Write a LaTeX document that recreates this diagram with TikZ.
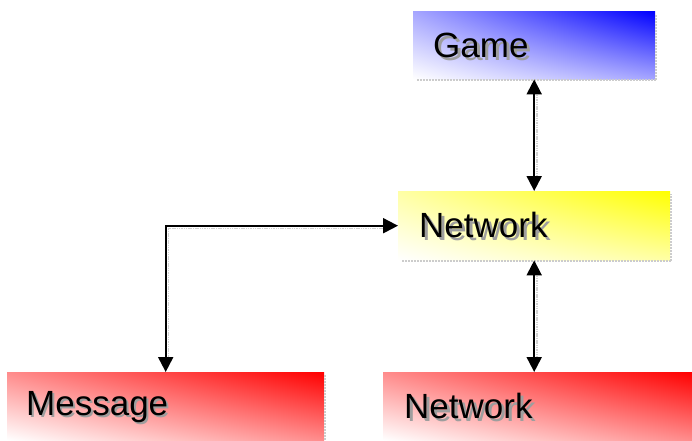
\documentclass[tikz,border=0pt]{standalone}
\usepackage{fontspec}
\setmainfont{Liberation Sans}
\usetikzlibrary{arrows.meta,shadings}

\tikzset{
  panel/.style={draw=none, minimum height=68pt, inner sep=0pt, anchor=north west},
  bluepanel/.style={panel, lower left=white, upper right=blue,
    upper left=blue!35!white, lower right=blue!35!white},
  yellowpanel/.style={panel, lower left=white, upper right=yellow,
    upper left=yellow!35!white, lower right=yellow!35!white},
  redpanel/.style={panel, lower left=white, upper right=red,
    upper left=red!45!white, lower right=red!45!white},
  edgeshadow/.style={line width=2pt, black!20, dash pattern=on 2pt off 1pt},
  caption/.style={font=\fontsize{35}{40}\selectfont, anchor=base west, inner sep=0pt, text=black},
  captionshadow/.style={caption, text=black!38},
  link/.style={line width=2pt, {Triangle[width=15pt,length=15pt]}-{Triangle[width=15pt,length=15pt]}},
  linkshadow/.style={line width=1.5pt, black!18, dash pattern=on 1.5pt off 0.8pt},
}

\begin{document}
\begin{tikzpicture}[x=1pt,y=-1pt]
  \useasboundingbox (0,0) rectangle (692,440);

  % shaded panels
  \node[bluepanel,   minimum width=242pt] (game) at (413,11)  {};
  \node[yellowpanel, minimum width=272pt, minimum height=69pt] (net) at (398,191) {};
  \node[redpanel,    minimum width=317pt] (msg)  at (7,372)   {};
  \node[redpanel,    minimum width=309pt] (low)  at (383,372) {};

  % dotted drop shadows along the lower and right edges
  \draw[edgeshadow] ([xshift=4pt,yshift=-1pt]game.south west) -- ([xshift=1pt,yshift=-1pt]game.south east) -- ([xshift=1pt,yshift=-3pt]game.north east);
  \draw[edgeshadow] ([xshift=4pt,yshift=-1pt]net.south west) -- ([xshift=1pt,yshift=-1pt]net.south east) -- ([xshift=1pt,yshift=-3pt]net.north east);
  \draw[edgeshadow] ([xshift=1pt,yshift=-3pt]msg.north east) -- ([xshift=1pt]msg.south east);

  % captions with their offset shadows
  \node[captionshadow] at (436,60)  {Game};
  \node[caption] (gamet) at (433,57)  {Game};
  \node[captionshadow] at (422,240) {Network};
  \node[caption] (nett)  at (419,237) {Network};
  \node[captionshadow] at (28,417)  {Message};
  \node[caption] (msgt)  at (26,415)  {Message};
  \node[captionshadow] at (407,421) {Network};
  \node[caption] (lowt)  at (404,418) {Network};

  % connector shadows
  \draw[linkshadow] ([xshift=3pt,yshift=-6pt]game.south) -- ([xshift=3pt,yshift=6pt]net.north);
  \draw[linkshadow] ([xshift=3pt,yshift=-6pt]net.south) -- ([xshift=3pt,yshift=6pt]low.north -| net.south);
  \draw[linkshadow] ([xshift=-6pt,yshift=-3pt]net.west) -| ([xshift=3pt,yshift=6pt]msg.north);

  % connectors
  \draw[link] (game.south) -- (net.north);
  \draw[link] (net.south) -- (low.north -| net.south);
  \draw[link] (net.west) -| (msg.north);
\end{tikzpicture}
\end{document}
